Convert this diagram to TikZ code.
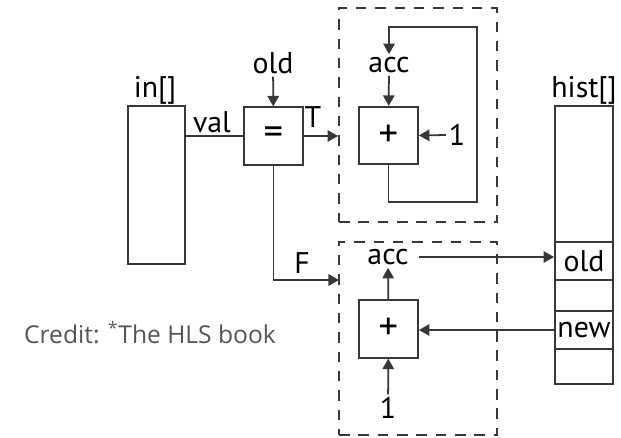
\documentclass[tikz,border=0pt]{standalone}
\usepackage{fontspec}
\setmainfont{PT Sans}
\newfontfamily\creditfont{Open Sans}
\usetikzlibrary{positioning,arrows.meta}
\definecolor{wiregray}{RGB}{55,55,55}
\definecolor{creditgray}{RGB}{85,85,85}
\tikzset{
  wire/.style={draw=wiregray,line width=1pt},
  arr/.style={wire,-{Triangle[length=6pt,width=6.5pt]}},
  opbox/.style={wire,minimum width=1.18cm,minimum height=1.15cm,inner sep=0pt,font=\fontsize{22}{22}\selectfont},
  lbl/.style={font=\fontsize{17}{17}\selectfont,inner sep=1.5pt},
  grpbox/.style={wire,dash pattern=on 6pt off 5pt},
  cell/.style={wire,minimum width=1.16cm,inner sep=0pt,font=\fontsize{17}{17}\selectfont},
  credit/.style={font=\creditfont\fontsize{14}{14}\selectfont,text=creditgray}
}

\begin{document}
\begin{tikzpicture}[x=0.02cm,y=-0.02cm]
\useasboundingbox (0,0) rectangle (621,438);
% LEFT: input array and compare
\node[wire,minimum width=1.14cm,minimum height=3.16cm] (inarr) at (156.5,185) {};
\node[lbl] (inlbl) at (155,90) {in[]};
\node[opbox] (eqbox) at (273.5,136) {=};
\node[lbl] (oldin) at (273,63) {old};
\node[lbl] (vallbl) at (212,122) {val};
\node[lbl] (tlbl) at (313,117) {T};
\node[lbl] (flbl) at (302,263) {F};
\draw[wire] (inarr.east |- eqbox.west) -- (eqbox.west);
\draw[arr] (oldin) -- (eqbox);

% TOP: accumulate when equal
\node[grpbox,minimum width=3.16cm,minimum height=4.28cm] (topgrp) at (418,115) {};
\node[opbox] (paddT) at (388.5,135.5) {+};
\node[lbl] (accT) at (389,65) {acc};
\node[lbl] (oneT) at (457,135) {1};
\coordinate (fbA) at (477,202);
\coordinate (fbB) at (477,27);
\draw[arr] (eqbox.east) -- (eqbox.east -| topgrp.west);
\draw[arr] (accT) -- (paddT);
\draw[arr] (oneT.west) -- (paddT.east);
\draw[arr] (paddT.south) |- (fbA) -- (fbB) -| (accT.north);

% BOTTOM: write back and restart
\node[grpbox,minimum width=3.16cm,minimum height=3.86cm] (botgrp) at (418,338.5) {};
\node[opbox] (paddB) at (388.5,329) {+};
\node[lbl] (accB) at (388,257) {acc};
\node[lbl] (oneB) at (388,408) {1};
\coordinate (fin) at (339,280);
\draw[arr] (eqbox.south) |- (fin);
\draw[arr] (paddB) -- (accB);
\draw[arr] (oneB) -- (paddB);

% RIGHT: histogram array
\node[lbl] (histlbl) at (584,90) {hist[]};
\foreach \nm/\ya/\yb/\txt in {hist0/106/242/{}, hold/242/280/old, hgap/280/311/{}, hnew/311/349/new, hend/349/384/{}}
  \node[cell,minimum height={(\yb-\ya)*0.02cm}] (\nm) at (584,{(\ya+\yb)/2}) {\txt};
\draw[arr] ([xshift=4pt]accB.east) -- (accB.east -| hold.west);
\draw[arr] (hnew.west) -- (hnew.west -| paddB.east);

\node[credit] (creditlbl) at (150,333) {Credit: \textsuperscript{*}The HLS book};
\end{tikzpicture}
\end{document}
